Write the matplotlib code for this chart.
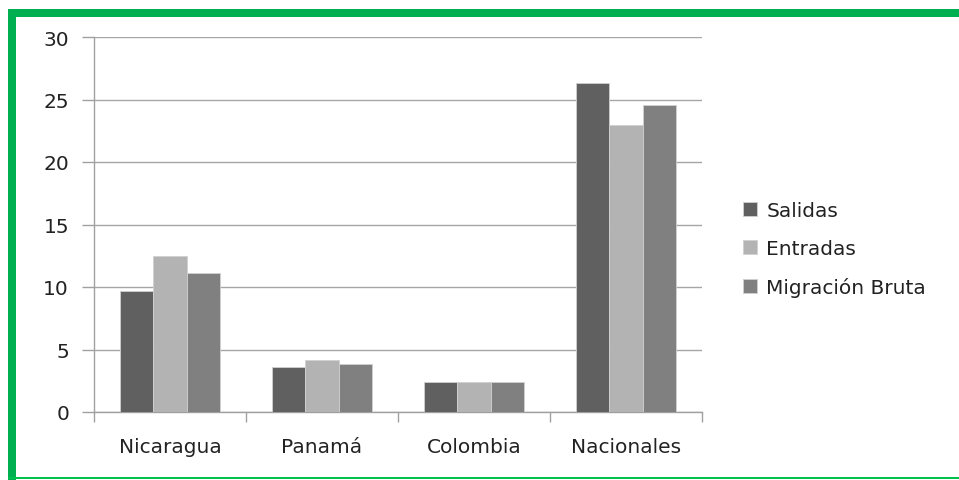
import matplotlib
matplotlib.use("Agg")
import matplotlib.pyplot as plt
import numpy as np
from matplotlib.patches import Rectangle

categories = ["Nicaragua", "Panamá", "Colombia", "Nacionales"]
series_names = ["Salidas", "Entradas", "Migración Bruta"]
salidas = [9.7, 3.6, 2.37, 26.3]
entradas = [12.45, 4.2, 2.37, 22.98]
migracion = [11.1, 3.87, 2.37, 24.56]
yticks = [0, 5, 10, 15, 20, 25, 30]

colors = ["#606060", "#b3b3b3", "#808080"]

plt.rcParams['font.family'] = ['DejaVu Sans']
FS = 14.5

W, H = 959, 481
fig = plt.figure(figsize=(W / 100, H / 100), dpi=100)
fig.patch.set_facecolor("white")

ax = fig.add_axes([94 / W, (H - 413) / H, (702 - 94) / W, (413 - 38) / H])

x = np.arange(len(categories))
bw = 0.22
for i, (vals, name) in enumerate(zip([salidas, entradas, migracion], series_names)):
    ax.bar(x + (i - 1) * bw, vals, width=bw, color=colors[i], label=name,
           edgecolor="#d0d0d0", linewidth=0.6, zorder=3)

ax.set_xlim(-0.5, len(categories) - 0.5)
ax.set_ylim(0, 30)
ax.set_yticks(yticks)
ax.set_yticklabels([str(v) for v in yticks])
ax.set_xticks(x)
ax.set_xticklabels(categories)
ax.set_xticks(np.arange(-0.5, len(categories)), minor=True)
ax.tick_params(axis="x", which="major", length=0, pad=18, labelsize=FS, colors="#222222")
ax.tick_params(axis="x", which="minor", length=7, width=1, color="#a0a0a0", direction="out")
ax.tick_params(axis="y", length=9, width=1, color="#a0a0a0", pad=9, labelsize=FS, labelcolor="#222222")

ax.grid(axis="y", color="#a6a6a6", linewidth=1, zorder=0)
for s in ["top", "right"]:
    ax.spines[s].set_visible(False)
for s in ["left", "bottom"]:
    ax.spines[s].set_color("#a0a0a0")
    ax.spines[s].set_linewidth(1)

leg = fig.legend(loc="upper left", bbox_to_anchor=(725 / W, (H - 184) / H),
                 frameon=False, fontsize=FS, handlelength=0.7, handleheight=0.7,
                 handletextpad=0.45, labelspacing=0.95)
for t in leg.get_texts():
    t.set_color("#222222")

green = "#00b050"
# top thick bar
fig.patches.append(Rectangle((8 / W, (H - 18) / H), (W - 8) / W, 8 / H,
                             transform=fig.transFigure, facecolor=green, edgecolor="none", zorder=10))
# left thick bar
fig.patches.append(Rectangle((8 / W, 0), 8 / W, (H - 10) / H,
                             transform=fig.transFigure, facecolor=green, edgecolor="none", zorder=10))
# bottom thin line
fig.patches.append(Rectangle((8 / W, 1 / H), (W - 8) / W, 2 / H,
                             transform=fig.transFigure, facecolor="#00c050", edgecolor="none", zorder=10))

fig.savefig("out.png", dpi=100, facecolor="white")
